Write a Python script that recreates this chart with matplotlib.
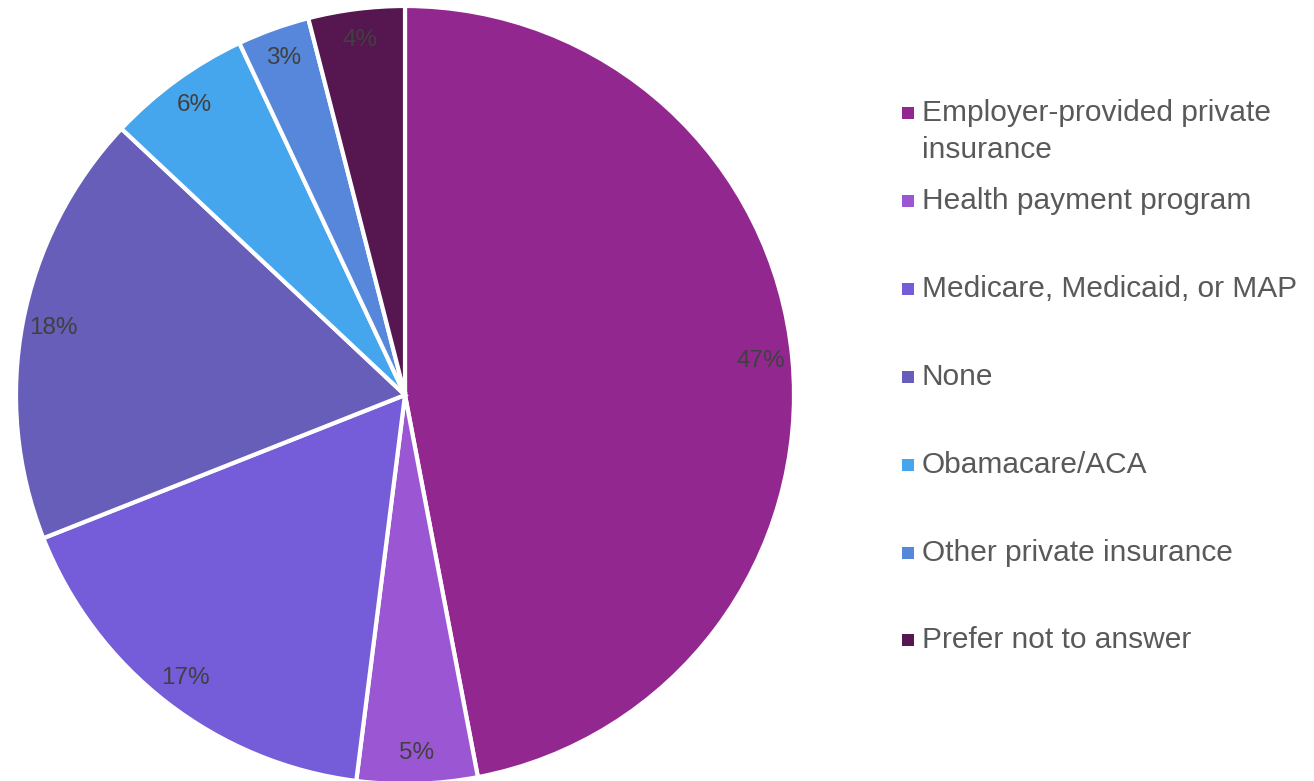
import matplotlib.pyplot as plt

# insurance coverage shares (%)
categories = ["Employer-provided private\ninsurance", "Health payment program",
              "Medicare, Medicaid, or MAP", "None", "Obamacare/ACA",
              "Other private insurance", "Prefer not to answer"]
shares = [47, 5, 17, 18, 6, 3, 4]
colors = ["#92278F", "#9B57D3", "#755DD9", "#665EB8", "#45A5ED", "#5687DB", "#561650"]

plt.rcParams['font.family'] = ['Liberation Sans', 'DejaVu Sans']

W, H = 1314, 781
fig = plt.figure(figsize=(W / 100, H / 100), dpi=100)

# pie axes, square, centred near the left side
cx, cy, r = 405, 386, 389
ax = fig.add_axes([(cx - r) / W, (cy - r) / H, 2 * r / W, 2 * r / H])
wedges, texts, autotexts = ax.pie(
    shares, colors=colors, startangle=90, counterclock=False,
    autopct=lambda p: f"{p:.0f}%", pctdistance=0.92,
    wedgeprops=dict(edgecolor="white", linewidth=3),
    textprops=dict(color="#404040", fontsize=17.5))
ax.set_xlim(-1, 1)
ax.set_ylim(-1, 1)
ax.set_aspect("equal")
ax.axis("off")

# legend drawn on its own pixel-space axes
lax = fig.add_axes([0, 0, 1, 1])
lax.set_xlim(0, W)
lax.set_ylim(H, 0)
lax.axis("off")
ys = [113, 201, 289, 377, 465, 553, 640]
for y, lab, c in zip(ys, categories, colors):
    lax.scatter([908], [y], marker="s", s=80, color=c, linewidths=0)
    for i, line in enumerate(lab.split("\n")):
        lax.text(922, y + i * 37, line, va="center", ha="left",
                 fontsize=21.5, color="#595959")

fig.savefig("out.png", dpi=100)
